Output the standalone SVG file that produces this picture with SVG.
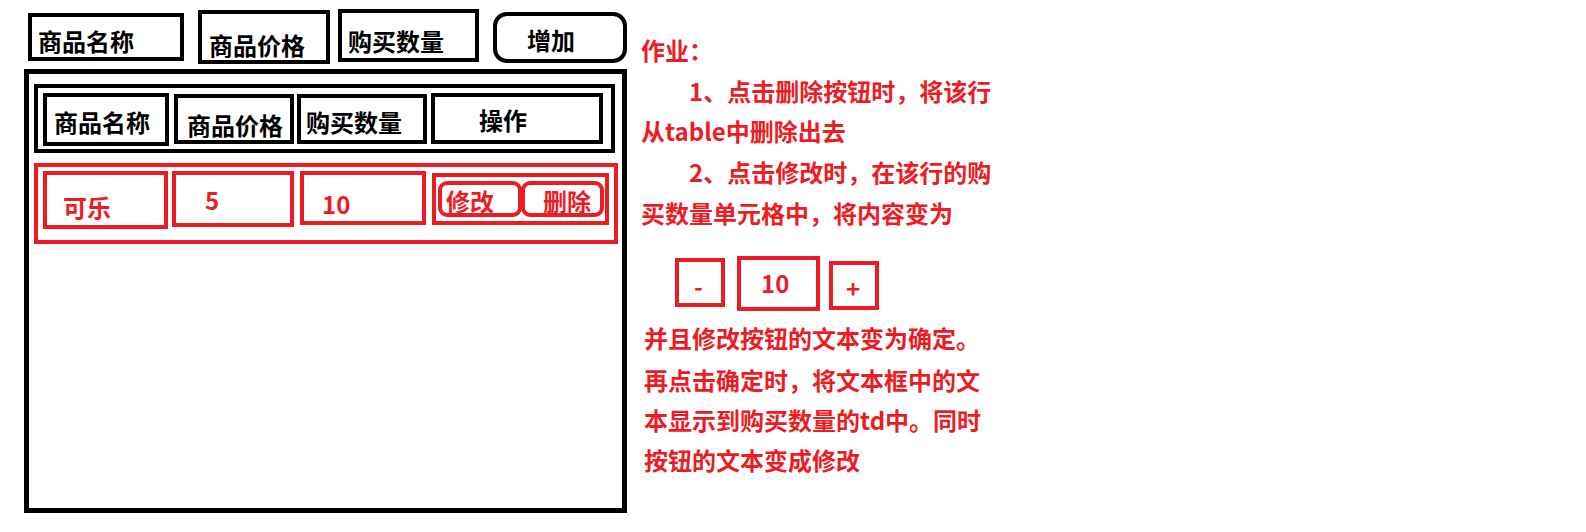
<svg xmlns="http://www.w3.org/2000/svg" width="1586" height="532" viewBox="0 0 1586 532">
<style>
.bk{fill:none;stroke:#000;stroke-width:4}
.rd{fill:none;stroke:#ED1C24;stroke-width:4}
.tb{font-family:"Noto Sans CJK SC","Microsoft YaHei",sans-serif;font-weight:bold;font-size:24px;fill:#000}
.tr{font-family:"Noto Sans CJK SC","Microsoft YaHei",sans-serif;font-weight:bold;font-size:24px;fill:#ED1C24}
</style>
<rect x="0" y="0" width="1586" height="532" fill="#fff"/>
<g id="top-name"><rect class="bk" x="30" y="15" width="152" height="44"/><text class="tb" x="38" y="51">商品名称</text></g>
<g id="top-price"><rect class="bk" x="200" y="12" width="128" height="50"/><text class="tb" x="209" y="55">商品价格</text></g>
<g id="top-qty"><rect class="bk" x="340" y="11" width="137" height="49"/><text class="tb" x="348" y="51">购买数量</text></g>
<g id="top-add"><rect class="bk" x="495" y="14" width="130" height="47" rx="12"/><text class="tb" x="527" y="50">增加</text></g>
<g id="table"><rect x="26.5" y="71.5" width="598" height="439" fill="none" stroke="#000" stroke-width="5"/></g>
<g id="header-row"><rect class="bk" x="36" y="86" width="577" height="65"/></g>
<g id="h-name"><rect class="bk" x="45" y="95" width="122" height="49"/><text class="tb" x="54" y="132">商品名称</text></g>
<g id="h-price"><rect class="bk" x="176" y="96" width="116" height="46"/><text class="tb" x="187" y="135">商品价格</text></g>
<g id="h-qty"><rect class="bk" x="299" y="96" width="126" height="46"/><text class="tb" x="306" y="132">购买数量</text></g>
<g id="h-op"><rect class="bk" x="433" y="95" width="168" height="47"/><text class="tb" x="479" y="130">操作</text></g>
<g id="data-row"><rect class="rd" x="36" y="165" width="580" height="77"/></g>
<g id="d-name"><rect class="rd" x="45" y="173" width="121" height="54"/><text class="tr" x="63" y="217">可乐</text></g>
<g id="d-price"><rect class="rd" x="174" y="173" width="118" height="52"/><text class="tr" x="205" y="210">5</text></g>
<g id="d-qty"><rect class="rd" x="302" y="173" width="122" height="50"/><text class="tr" x="322" y="214">10</text></g>
<g id="d-op"><rect class="rd" x="434" y="175" width="173" height="48"/></g>
<g id="btn-edit"><rect class="rd" x="440" y="183" width="80" height="32" rx="7"/><text class="tr" x="446" y="211">修改</text></g>
<g id="btn-del"><rect class="rd" x="523" y="183" width="79" height="32" rx="7"/><text class="tr" x="543" y="211">删除</text></g>
<g id="minus"><rect class="rd" x="677" y="260" width="46" height="45"/><text class="tr" x="694" y="296">-</text></g>
<g id="qty-box"><rect class="rd" x="739" y="258" width="79" height="51"/><text class="tr" x="761" y="293">10</text></g>
<g id="plus"><rect class="rd" x="831" y="263" width="46" height="45"/><text class="tr" x="846" y="298">+</text></g>
<g id="notes">
<text class="tr" x="641" y="60">作业：</text>
<text class="tr" x="689" y="101">1、点击删除按钮时，将该行</text>
<text class="tr" x="641" y="141">从table中删除出去</text>
<text class="tr" x="689" y="182">2、点击修改时，在该行的购</text>
<text class="tr" x="641" y="223">买数量单元格中，将内容变为</text>
<text class="tr" x="644" y="348">并且修改按钮的文本变为确定。</text>
<text class="tr" x="644" y="390">再点击确定时，将文本框中的文</text>
<text class="tr" x="644" y="430">本显示到购买数量的td中。同时</text>
<text class="tr" x="644" y="470">按钮的文本变成修改</text>
</g>
<g id="connectors"/>
</svg>
